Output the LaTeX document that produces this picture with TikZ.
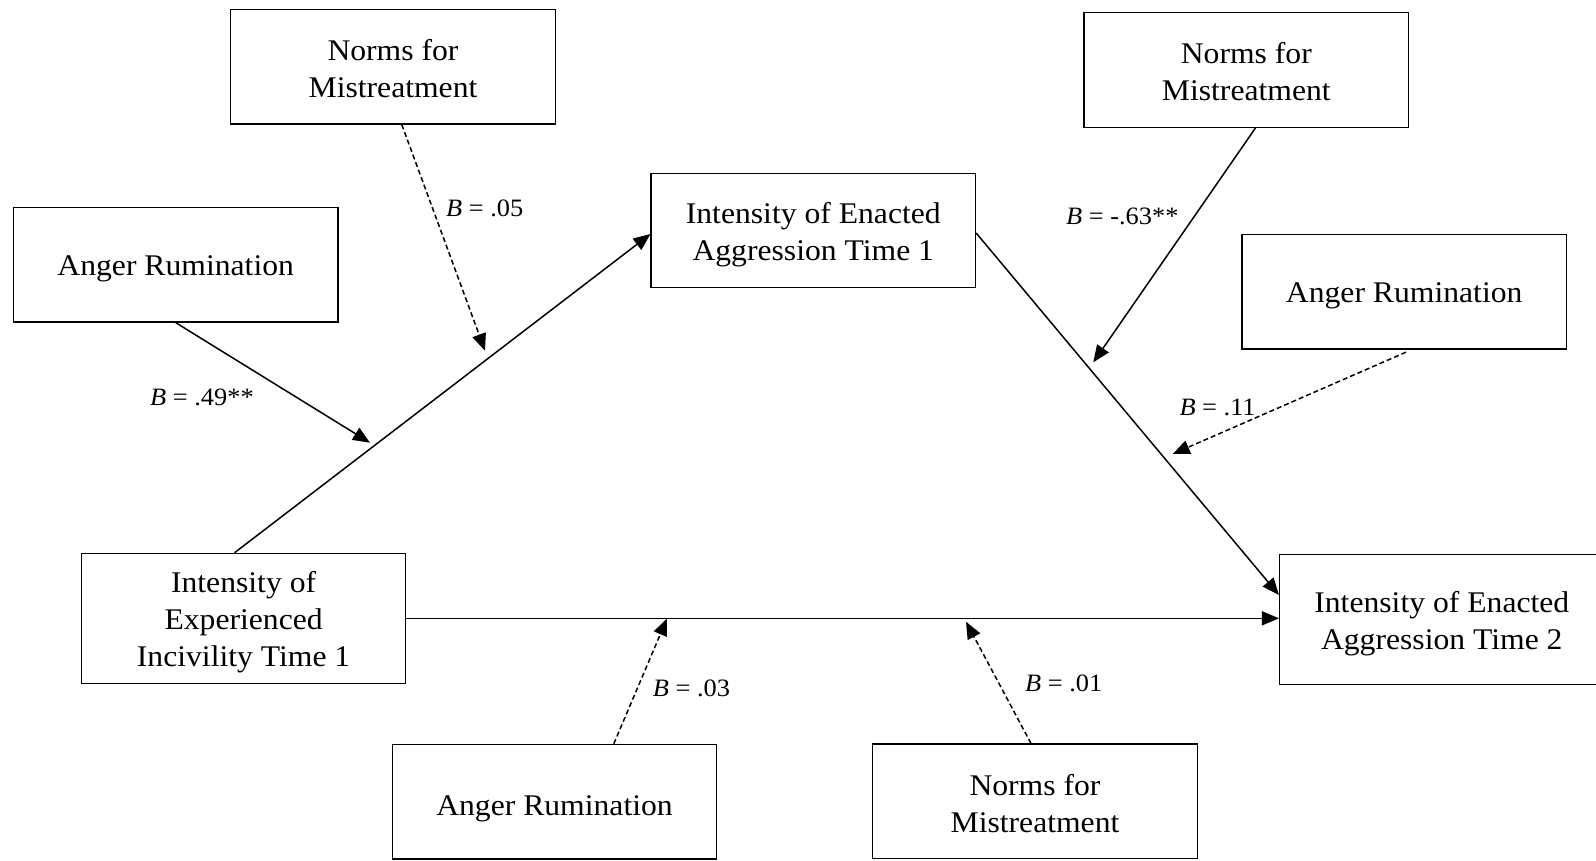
\documentclass[tikz,border=0pt]{standalone}
\usepackage{fontspec}
\setmainfont{Liberation Serif}[FakeStretch=1.055]
\usetikzlibrary{arrows.meta,calc}
% struts that set the first line of a box a little lower
\newcommand{\lowstrut}{\rule{0pt}{29pt}}
\newcommand{\midstrut}{\rule{0pt}{25pt}}
\newcommand{\deepstrut}{\rule{0pt}{34pt}}
\begin{document}
\begin{tikzpicture}[x=1pt,y=-1pt,
  varbox/.style={draw, line width=1.2pt, minimum width=324.5pt, minimum height=114.7pt,
    inner sep=0pt, align=center, font=\fontsize{30}{37}\selectfont},
  tallbox/.style={varbox, minimum height=130pt},
  link/.style={line width=1.5pt, -{Triangle[length=17pt,width=14pt]}},
  weak/.style={link, dash pattern=on 5pt off 3pt},
  coef/.style={font=\fontsize{25}{30}\selectfont, inner sep=0pt, anchor=base west}
]
\useasboundingbox (0,0) rectangle (1596,860);
\fill[white] (0,0) rectangle (1596,860);

% variables
\node[varbox]  (normsTL) at (393,66.7)    {\midstrut Norms for\\Mistreatment};
\node[varbox]  (angerTL) at (175.7,264.7) {\lowstrut Anger Rumination};
\node[varbox]  (enT1)    at (813.3,230.5) {\lowstrut Intensity of Enacted\\Aggression Time 1};
\node[varbox]  (normsTR) at (1246.3,70)   {\midstrut Norms for\\Mistreatment};
\node[varbox]  (angerTR) at (1404.2,291.7){\lowstrut Anger Rumination};
\node[tallbox] (exper)   at (243.6,618.3) {\lowstrut Intensity of\\Experienced\\Incivility Time 1};
\node[tallbox] (enT2)    at (1441.8,619.5){\lowstrut Intensity of Enacted\\Aggression Time 2};
\node[varbox]  (angerB)  at (554.5,801.7) {\deepstrut Anger Rumination};
\node[varbox]  (normsB)  at (1035,801.4)  {\midstrut Norms for\\Mistreatment};

% points where the moderating paths meet the main paths
\coordinate (mA) at (370,442.7);
\coordinate (mB) at (485,350.7);
\coordinate (mC) at (1093.3,362.3);
\coordinate (mD) at (1172.7,454);
\coordinate (mE) at (667,618.5);
\coordinate (mF) at (966,621.7);

% main paths
\draw[link] ([xshift=-9pt]exper.north) -- ([yshift=-3.5pt]enT1.west);
\draw[link] ([yshift=-2.5pt]enT1.east) -- ([yshift=24.5pt]enT2.west);
\draw[link] (exper.east) -- (exper.east -| enT2.west);

% moderating paths
\draw[link] (angerTL.south) -- (mA);
\draw[weak] ([xshift=8.8pt]normsTL.south) -- (mB);
\draw[link] ([xshift=9.2pt]normsTR.south) -- (mC);
\draw[weak] ([xshift=1.8pt,yshift=-2.5pt]angerTR.south) -- (mD);
\draw[weak] ([xshift=59.3pt]angerB.north) -- (mE);
\draw[weak] ([xshift=-4pt]normsB.north) -- (mF);

% coefficients
\node[coef] (c1) at (446,216)    {\textit{B} = .05};
\node[coef] (c2) at (150,405)    {\textit{B} = .49**};
\node[coef] (c3) at (1066,224)   {\textit{B} = -.63**};
\node[coef] (c4) at (1179.3,415) {\textit{B} = .11};
\node[coef] (c5) at (652.7,696)  {\textit{B} = .03};
\node[coef] (c6) at (1025,691)   {\textit{B} = .01};
\end{tikzpicture}
\end{document}
